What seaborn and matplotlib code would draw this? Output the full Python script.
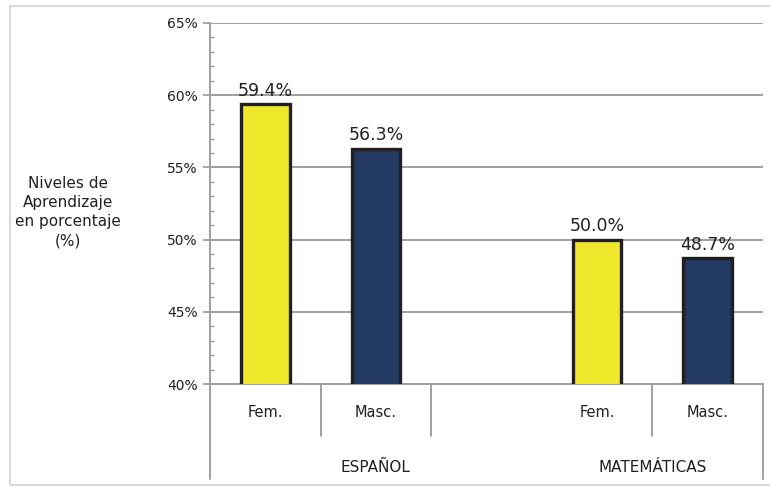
import matplotlib
matplotlib.use("Agg")
import matplotlib.pyplot as plt
import matplotlib.transforms as mtransforms
from matplotlib.ticker import MultipleLocator, FuncFormatter
from matplotlib.patches import Rectangle
import seaborn as sns
import pandas as pd

# Data
slots = ["Esp-Fem", "Esp-Masc", "gap", "Mat-Fem", "Mat-Masc"]
bar_slots = ["Esp-Fem", "Esp-Masc", "Mat-Fem", "Mat-Masc"]
values = [59.4, 56.3, 50.0, 48.7]
sexes = ["Fem.", "Masc.", "Fem.", "Masc."]
slot_labels = ["Fem.", "Masc.", "", "Fem.", "Masc."]
groups = ["ESPAÑOL", "MATEMÁTICAS"]

colors = {"Fem.": "#F0E82A", "Masc.": "#233A63"}
axis_grey = "#A0A0A0"
text_col = "#231F20"

df = pd.DataFrame({"slot": bar_slots, "value": values, "sexo": sexes})

sns.set_theme(style="white")
plt.rcParams["font.family"] = ["DejaVu Sans"]

fig = plt.figure(figsize=(7.7, 4.87), dpi=100)
ax = fig.add_axes([210 / 770, 103 / 487, 553 / 770, 361 / 487])

# Light outer frame
fig.patches.append(Rectangle((9.5 / 770, 2.0 / 487), 1.0, 479.5 / 487,
                             transform=fig.transFigure, fill=False,
                             edgecolor="#DADADA", linewidth=1.5))

sns.barplot(data=df, x="slot", y="value", hue="sexo", order=slots,
            palette=colors, saturation=1, width=0.44, dodge=False,
            legend=False, edgecolor=text_col, linewidth=2.4, ax=ax, zorder=3)

ax.set_ylim(40, 65)
ax.set_xlim(-0.5, 4.5)
ax.yaxis.set_major_locator(MultipleLocator(5))
ax.yaxis.set_minor_locator(MultipleLocator(1))
ax.yaxis.set_major_formatter(FuncFormatter(lambda v, p: f"{v:.0f}%"))
ax.grid(axis="y", which="major", color=axis_grey, linewidth=1.4, zorder=0)
ax.set_axisbelow(True)
ax.tick_params(axis="y", which="major", direction="out", length=5,
               width=1.3, color=axis_grey, labelsize=10, pad=4,
               labelcolor=text_col, left=True)
ax.tick_params(axis="y", which="minor", direction="in", length=3,
               width=1.0, color=axis_grey, left=True)
ax.tick_params(axis="x", bottom=False, labelbottom=False)
ax.set_xlabel("")
ax.set_ylabel("")

for side in ["top", "right"]:
    ax.spines[side].set_visible(False)
for side in ["left", "bottom"]:
    ax.spines[side].set_color(axis_grey)
    ax.spines[side].set_linewidth(1.4)

# Value labels above each bar
for slot, v in zip(bar_slots, values):
    x = slots.index(slot)
    ax.annotate(f"{v:.1f}%", (x, v), xytext=(0, 3), textcoords="offset points",
                ha="center", va="bottom", fontsize=12.5, color=text_col)

# Two-level category axis
trans = mtransforms.blended_transform_factory(ax.transData, ax.transAxes)
long_bottom = -0.263
short_bottom = -0.144
for xb in [-0.5, 4.5]:
    ax.plot([xb, xb], [0, long_bottom], transform=trans, color=axis_grey,
            lw=1.4, clip_on=False)
for xb in [0.5, 1.5, 3.5]:
    ax.plot([xb, xb], [0, short_bottom], transform=trans, color=axis_grey,
            lw=1.4, clip_on=False)

for i, lab in enumerate(slot_labels):
    if lab:
        ax.text(i, -0.08, lab, transform=trans, ha="center", va="center",
                fontsize=10.5, color=text_col)
ax.text(1.0, -0.232, groups[0], transform=trans, ha="center", va="center",
        fontsize=11, color=text_col)
ax.text(3.5, -0.232, groups[1], transform=trans, ha="center", va="center",
        fontsize=11, color=text_col)

# Axis title, horizontal at the left
fig.text(68 / 770, 1 - 212 / 487, "Niveles de\nAprendizaje\nen porcentaje\n(%)",
         ha="center", va="center", fontsize=11, color=text_col,
         linespacing=1.35)

fig.savefig("out.png", dpi=100)
